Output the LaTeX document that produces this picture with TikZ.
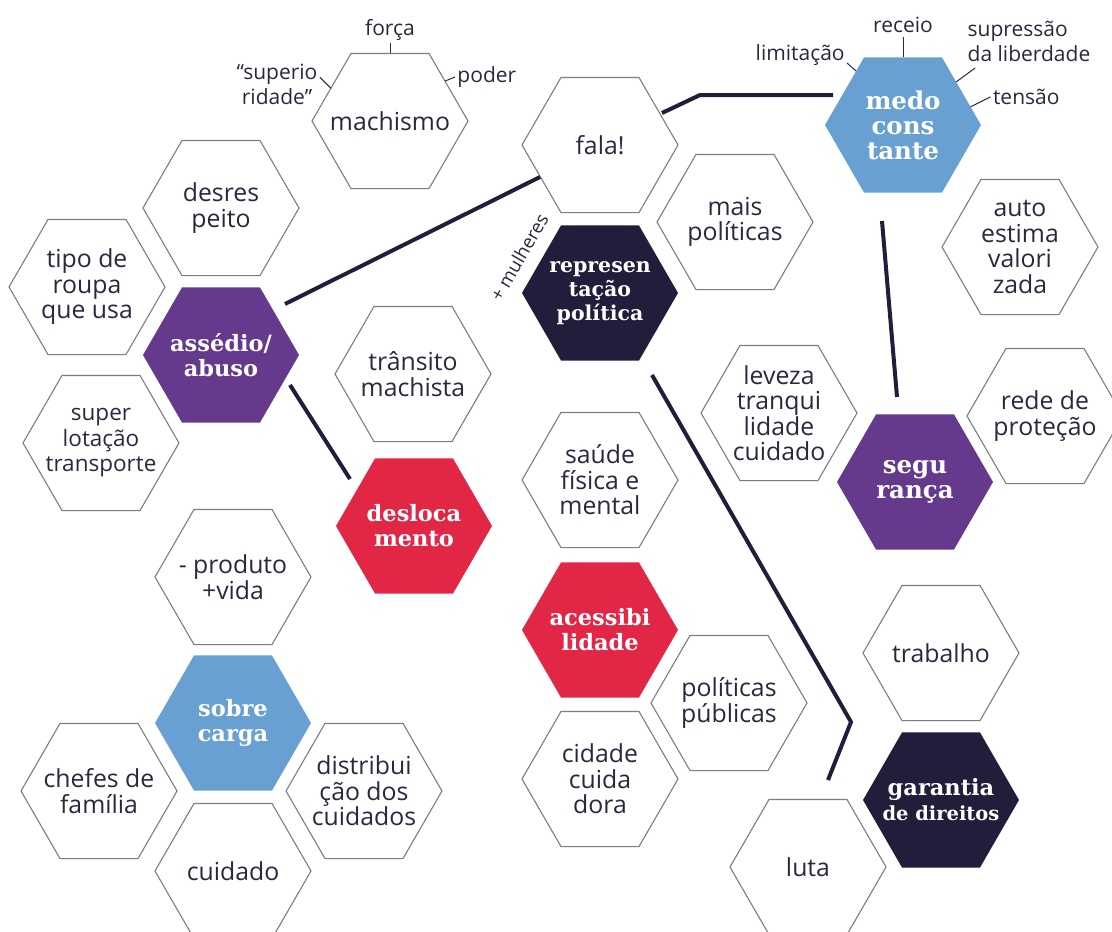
\documentclass[tikz,border=0pt]{standalone}
\usepackage{fontspec}
\setmainfont{Open Sans}
\newfontfamily\headserif{DejaVu Serif}
\usetikzlibrary{shapes.geometric}

\definecolor{navy}{RGB}{32,30,58}
\definecolor{roxo}{RGB}{101,57,140}
\definecolor{vermelho}{RGB}{226,39,70}
\definecolor{azul}{RGB}{104,160,210}
\definecolor{contorno}{RGB}{125,125,130}
\definecolor{ink}{RGB}{42,40,62}

\tikzset{
    hexa/.style={regular polygon, regular polygon sides=6, minimum size=156pt, inner sep=0pt, outer sep=0pt},
    wordtext/.style={text=ink, align=center, inner sep=0pt, font=\fontsize{24.8}{25.5}\selectfont},
    headtext/.style={text=white, align=center, inner sep=0pt, font=\headserif\bfseries\fontsize{22.5}{25}\selectfont},
    idea/.style={hexa, draw=contorno, line width=1.1pt, label={[wordtext]center:{#1}}},
    idea small/.style={hexa, draw=contorno, line width=1.1pt, label={[wordtext, font=\fontsize{22.5}{25.5}\selectfont]center:{#1}}},
    theme/.style={hexa, fill=#1},
    heading/.style={label={[headtext]center:{#1}}},
    big heading/.style={label={[headtext, font=\headserif\bfseries\fontsize{24.5}{25}\selectfont]center:{#1}}},
    small heading/.style={label={[headtext, font=\headserif\bfseries\fontsize{20.5}{24}\selectfont]center:{#1}}},
    link/.style={draw=navy, line width=4pt},
    tick/.style={draw=ink, line width=1pt},
    tag/.style={text=ink, inner sep=2pt, font=\fontsize{21}{25}\selectfont}
}

\begin{document}
\begin{tikzpicture}[x=1pt, y=-1pt]
    \path[use as bounding box, fill=white] (0,0) rectangle (1112,932);

    \node[idea={machismo}] (mach) at (390,121) {};
    \node[idea={fala!}] (fala) at (600,145) {};
    \node[theme=azul, big heading={medo\\cons\\tante}] (medo) at (903,125) {};

    \node[idea={desres\\peito}] (desres) at (221,208) {};
    \node[idea={tipo de\\roupa\\que usa}] (roupa) at (87,287) {};
    \node[theme=roxo, heading={assédio/\\abuso}] (abuso) at (221,355) {};
    \node[idea small={super\\lotação\\transporte}] (lotacao) at (101,443) {};
    \node[idea={trânsito\\machista}] (transito) at (413,374) {};
    \node[theme=vermelho, heading={desloca\\mento}] (desloca) at (414,526) {};

    \node[idea={- produto\\+vida}] (produto) at (233,577) {};
    \node[theme=azul, heading={sobre\\carga}] (carga) at (233,723) {};
    \node[idea={chefes de\\família}] (chefes) at (99,791) {};
    \node[idea={cuidado}] (cuidado) at (233,871) {};
    \node[idea={distribui\\ção dos\\cuidados}] (distrib) at (364,791) {};

    \node[idea={mais\\políticas}] (maispol) at (735,222) {};
    \node[theme=navy, small heading={represen\\tação\\política}] (repr) at (600,293) {};
    \node[idea={saúde\\física e\\mental}] (saude) at (600,480) {};
    \node[theme=vermelho, heading={acessibi\\lidade}] (acess) at (600,630) {};
    \node[idea={políticas\\públicas}] (polpub) at (729,703) {};
    \node[idea={cidade\\cuida\\dora}] (cidade) at (600,779) {};

    \node[idea={auto\\estima\\valori\\zada}] (autoest) at (1020,247) {};
    \node[idea={leveza\\tranqui\\lidade\\cuidado}] (leveza) at (779,413) {};
    \node[idea={rede de\\proteção}] (rede) at (1045,416) {};
    \node[theme=roxo, big heading={segu\\rança}] (segura) at (915,482) {};
    \node[idea={trabalho}] (trabalho) at (941,653) {};
    \node[theme=navy, heading={garantia\\{\fontsize{19.5}{25}\selectfont de direitos}}] (garantia) at (941,800) {};
    \node[idea={luta}] (luta) at (808,867) {};

    \node[tag, rotate=60, font=\fontsize{18.5}{22}\selectfont] (mulheres) at (519,257) {+ mulheres};

    \draw[tick] (mach.north) -- ++(0,-10) node[tag, above] {força};
    \draw[tick] (mach.36) -- ++(10,-4) node[tag, right] {poder};
    \draw[tick] (mach.151) -- ++(-11,-11) node[tag, left, align=center, yshift=-7pt] {“superio\\ridade”};

    \draw[tick] (medo.north) -- ++(0,-20) node[tag, above=2pt] {receio};
    \draw[tick] (medo.131) -- ++(-9,-8) node[tag, left, yshift=8pt] {limitação};
    \draw[tick] (medo.39) -- ++(19,-14) node[tag, anchor=south west, xshift=-10pt, yshift=4pt, align=left] {supressão\\da liberdade};
    \draw[tick] (medo.15) -- ++(20,-10) node[tag, right] {tensão};

    \draw[link] ([shift={(64,-51)}]abuso.center) -- ([shift={(-60,32)}]fala.center);
    \draw[link] ([shift={(62,-32)}]fala.center) -- ++(38,-18) -- ([shift={(-70,-30)}]medo.center);
    \draw[link] ([shift={(-21,96)}]medo.center) -- ([shift={(-18,-85)}]segura.center);
    \draw[link] ([shift={(69,30)}]abuso.center) -- ([shift={(-64,-47)}]desloca.center);
    \draw[link] ([shift={(52,82)}]repr.center) -- ++(199,347) -- ([shift={(20,-87)}]luta.center);
\end{tikzpicture}
\end{document}
